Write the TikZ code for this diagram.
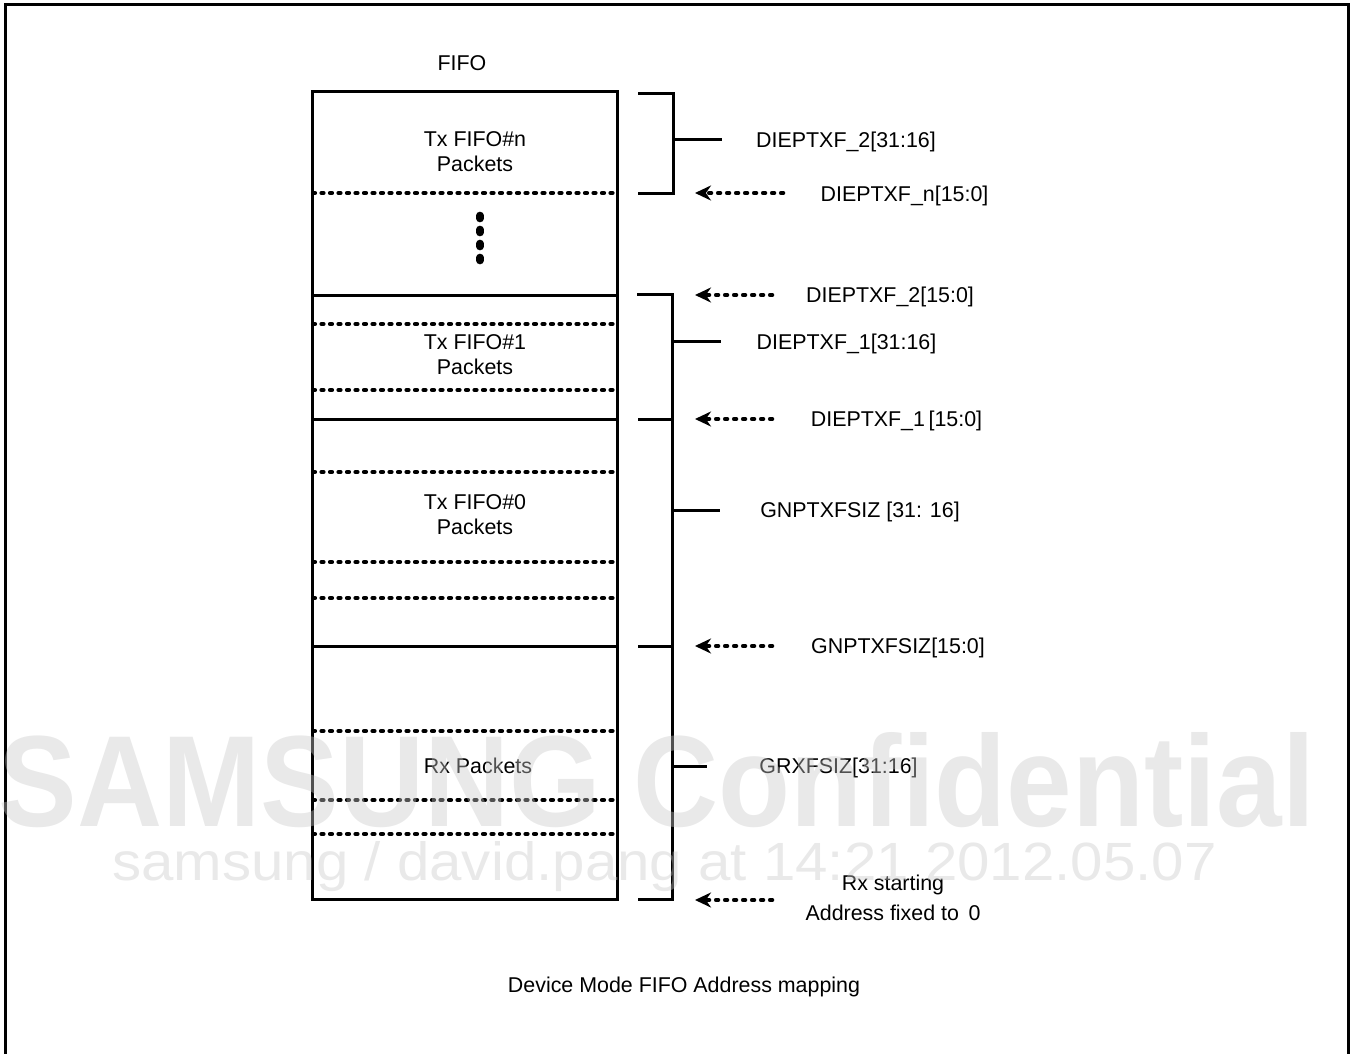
\documentclass[tikz,border=0pt]{standalone}
\usepackage{fontspec}
\setmainfont{Liberation Sans}
\usepackage{graphicx}
\usepackage{tikz}
\usetikzlibrary{positioning, arrows.meta, calc}
\definecolor{WMGray}{HTML}{C8C8C8}

\begin{document}
\begin{tikzpicture}[x=0.5pt, y=-0.5pt,
    every node/.style={font=\fontsize{10.7}{12.5}\selectfont, inner sep=0pt,
                       align=center, text depth=0pt},
    edge line/.style={line width=1.5pt},
    sep dots/.style={line width=2.1pt, line cap=round, dash pattern=on 1pt off 3.25pt},
    ptr/.style={line width=2.3pt, line cap=round, dash pattern=on 0.9pt off 3.6pt,
                -{Stealth[length=8pt, width=7.5pt]}},
    watermark/.style={text=WMGray, text opacity=0.4}]
  \useasboundingbox (0,0) rectangle (1354,1054);
  \draw[line width=1.5pt] (5,1054) -- (5,5) -- (1348,5) -- (1348,1054);

  \node (fifolbl) at (462,63) {FIFO};
  \draw[edge line] (312,92) rectangle (617,899);
  \foreach \y in {295,419,646}
    \draw[edge line] (312,\y) -- (617,\y);
  \foreach \y in {193,324,390,472,562,598,731,800,834}
    \draw[sep dots] (313,\y) -- (616,\y);
  \draw[line width=3.8pt, line cap=round, dash pattern=on 1.5pt off 5.5pt] (480,215.5) -- (480,262);

  \node (txn) at (475,151.5) {Tx FIFO\#n\\Packets};
  \node (tx1) at (475,354.5) {Tx FIFO\#1\\Packets};
  \node (tx0) at (475,515) {Tx FIFO\#0\\Packets};
  \node (rx)  at (478,766) {Rx Packets};

  \draw[edge line] (638,94) -| (673,193) -- (638,193);
  \draw[edge line] (673,140) -- (722,140);
  \draw[edge line] (637,294) -| (672,899) -- (638,899);
  \draw[edge line] (638,419) -- (672,419);
  \draw[edge line] (638,646) -- (672,646);
  \draw[edge line] (672,341) -- (721,341);
  \draw[edge line] (672,510) -- (720,510);
  \draw[edge line] (672,766) -- (707,766);

  \node (d2hi) at (846,140) {DIEPTXF\_2[31:16]};
  \node (dnlo) at (904.5,194) {DIEPTXF\_n[15:0]};
  \node (d2lo) at (890,295) {DIEPTXF\_2[15:0]};
  \node (d1hi) at (846.5,342) {DIEPTXF\_1[31:16]};
  \node (d1lo) at (896.5,419) {DIEPTXF\_1\,[15:0]};
  \node (gnhi) at (860,510) {GNPTXFSIZ [31: 16]};
  \node (gnlo) at (898,646) {GNPTXFSIZ[15:0]};
  \node (grhi) at (838.5,766) {GRXFSIZ[31:16]};
  \node (rx0)  at (893,898) {Rx starting\\[2.5pt]Address fixed to\, 0};

  \foreach \n/\y/\xt in {n/193/783, a/295/772, b/419/772, c/646/772, d/900/772} {
    \coordinate (tail\n) at (\xt,\y);
    \coordinate (tip\n) at (695,\y);
    \draw[ptr] (tail\n) -- (tip\n);
  }

  \node (caption) at (684,985) {Device Mode FIFO Address mapping};

  \node[watermark, anchor=base west] (wm1) at (-2,826)
    {\resizebox{658pt}{47pt}{\bfseries SAMSUNG Confidential}};
  \node[watermark, anchor=base west] (wm2) at (112,880)
    {\resizebox{552pt}{19.5pt}{samsung / david.pang at 14:21 2012.05.07}};
\end{tikzpicture}
\end{document}
